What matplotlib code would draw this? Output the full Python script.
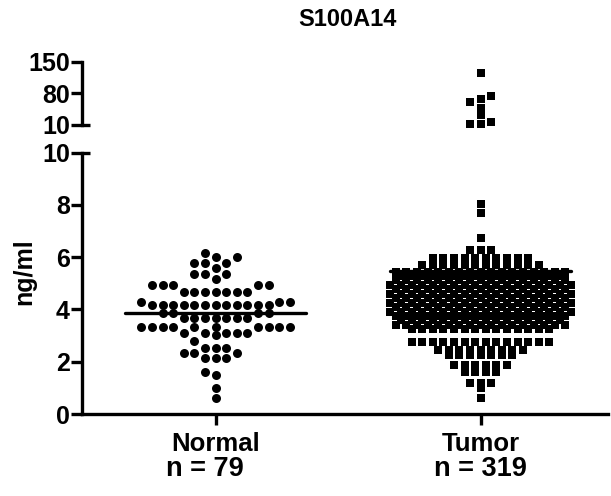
import numpy as np
import matplotlib.pyplot as plt
from matplotlib.transforms import blended_transform_factory

plt.rcParams['font.family'] = ['Liberation Sans', 'DejaVu Sans']
plt.rcParams['font.weight'] = 'bold'

# =============================================================================
# data (value levels and how many samples sit at each)
# =============================================================================
groups = ['Normal', 'Tumor']
group_n = ['n = 79', 'n = 319']

normal_levels = [6.17, 6.02, 5.77, 5.58, 5.36, 5.15, 4.95, 4.68, 4.30, 4.17,
                 3.86, 3.66, 3.34, 3.11, 3.02, 2.81, 2.51, 2.32, 2.13,
                 1.62, 1.49, 0.98, 0.60]
normal_counts = [1, 2, 3, 1, 3, 1, 5, 7, 3, 12,
                 4, 7, 10, 5, 1, 1, 3, 3, 3,
                 1, 1, 1, 1]

tumor_levels = [8.04, 7.68, 6.75, 6.28, 5.97, 5.70,
                5.45, 5.28, 5.11, 4.94, 4.77, 4.60, 4.43, 4.26, 4.09, 3.92,
                3.75, 3.58, 3.41, 3.24,
                2.77, 2.45, 2.26, 1.88, 1.62, 1.19, 1.00, 0.61]
tumor_counts = [1, 1, 1, 3, 10, 12,
                17, 16, 17, 18, 17, 18, 17, 18, 17, 18,
                17, 16, 17, 14,
                14, 9, 7, 6, 4, 3, 1, 1]
tumor_high = [124, 74, 67, 60, 48, 32, 16, 13, 13]

normal = np.repeat(normal_levels, normal_counts)
tumor_low = np.repeat(tumor_levels, tumor_counts)
tumor_hi = np.array(tumor_high, dtype=float)
tumor = np.concatenate([tumor_low, tumor_hi])


def row_x(counts, center, step):
    # every level is one row, centred on the group
    xs = []
    for n in counts:
        xs.extend(center + (np.arange(n) - (n - 1) / 2) * step)
    return np.array(xs)


def swarm_x(ax, vals, center, step, gap):
    # first free column nearest the centre, going up the values
    py = ax.transData.transform(np.column_stack([np.full(len(vals), center), vals]))[:, 1]
    xs = np.zeros(len(vals))
    last = {}
    for i in np.argsort(vals, kind='stable'):
        k = 0
        placed = False
        while not placed:
            for c in ([0] if k == 0 else [-k, k]):
                if c not in last or abs(py[i] - last[c]) >= gap:
                    last[c] = py[i]
                    xs[i] = center + c * step
                    placed = True
                    break
            k += 1
    return xs


fig = plt.figure(figsize=(6.11, 4.96), dpi=100)
W, H = 611, 496
ax = fig.add_axes([82 / W, 1 - 414 / H, 526 / W, (414 - 152.7) / H])
ax_top = fig.add_axes([82 / W, 1 - 125 / H, 526 / W, (125 - 61.7) / H])

for a in (ax, ax_top):
    a.set_xlim(-0.504, 1.481)
    a.spines['top'].set_visible(False)
    a.spines['right'].set_visible(False)
    a.spines['left'].set_linewidth(2.4)
    a.spines['bottom'].set_linewidth(2.4)
    a.tick_params(axis='y', length=7.7, width=2.4, labelsize=18, pad=1)
ax.set_ylim(0, 10)
ax_top.set_ylim(10, 150)
ax_top.spines['bottom'].set_visible(False)
ax_top.set_xticks([])

step = 0.04
ax.scatter(swarm_x(ax, normal, 0, step, 8), normal, marker='o', s=42,
           color='black', linewidths=0, clip_on=False, zorder=3)
ax.scatter(row_x(tumor_counts, 1, step), tumor_low, marker='s', s=31,
           color='black', linewidths=0, clip_on=False, zorder=3)
ax_top.scatter(swarm_x(ax_top, tumor_hi, 1, step, 7), tumor_hi, marker='s', s=31,
               color='black', linewidths=0, clip_on=False, zorder=3)

# mean lines
for i, vals in enumerate((normal, tumor)):
    m = np.mean(vals)
    ax.plot([i - 0.34, i + 0.34], [m, m], color='black', lw=2.4,
            solid_capstyle='round', zorder=4)

ax.set_yticks([0, 2, 4, 6, 8, 10])
ax_top.set_yticks([10, 80, 150])
ax.set_xticks([0, 1])
ax.set_xticklabels(groups, fontsize=18.5, fontweight='bold')
ax.tick_params(axis='x', length=7.7, width=2.4, pad=5)

# short caps at the axis break
for a, y in ((ax, 1), (ax_top, 0)):
    a.plot([0, 8 / 526], [y, y], color='black', lw=2.4, transform=a.transAxes,
           clip_on=False, solid_capstyle='butt')

tr = blended_transform_factory(ax.transData, ax.transAxes)
for x, t in zip([-0.04, 1.0], group_n):
    ax.text(x, -0.212, t, transform=tr, ha='center', va='center',
            fontsize=19.5, fontweight='bold')

fig.text(24 / W, 1 - 272 / H, 'ng/ml', rotation=90, ha='center', va='center',
         fontsize=18, fontweight='bold')
fig.text(347 / W, 1 - 20 / H, 'S100A14', ha='center', va='center',
         fontsize=17, fontweight='bold')

fig.savefig('out.png', dpi=100)
